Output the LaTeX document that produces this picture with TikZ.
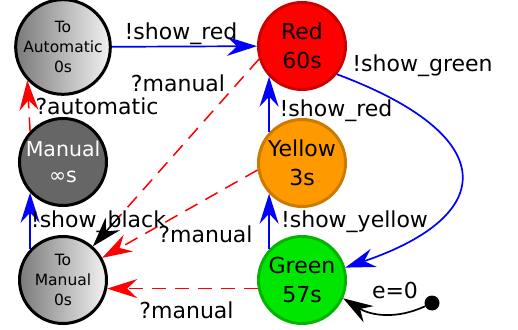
\documentclass[tikz,border=0pt]{standalone}
\usepackage{fontspec}
\setmainfont{DejaVu Sans}
\usetikzlibrary{arrows.meta}
\definecolor{rbord}{HTML}{CC0000}
\definecolor{yfill}{HTML}{FF9900}
\definecolor{ybord}{HTML}{CC7A00}
\definecolor{gfill}{HTML}{00E600}
\definecolor{gbord}{HTML}{00B400}
\definecolor{mfill}{HTML}{666666}
\definecolor{shL}{HTML}{7A7A7A}
\definecolor{shR}{HTML}{F2F2F2}
\tikzset{
  state/.style={circle, minimum size=87pt, inner sep=0pt, line width=3pt, align=center,
    font=\fontsize{22}{29}\selectfont},
  grad/.style={state, draw=black, shading=axis, left color=shL, right color=shR,
    font=\fontsize{15.5}{20}\selectfont},
  tipx/.style={-{Stealth[length=30pt,width=19pt,inset=10pt]}},
  bluearr/.style={draw=blue, line width=1.7pt, tipx},
  redarr/.style={draw=red, line width=1.5pt, dash pattern=on 14pt off 9pt, tipx},
  lbl/.style={font=\fontsize{22}{26}\selectfont, anchor=base, inner sep=0pt},
}
\begin{document}
\begin{tikzpicture}[x=1pt,y=1pt]
\useasboundingbox (0,0) rectangle (518,329);
\node[grad] (TA) at (63,282) {To\\Automatic\\0s};
\node[state, draw=rbord, fill=red] (R) at (302,283) {Red\\60s};
\node[state, draw=black, fill=mfill, text=white, font=\fontsize{20.5}{26}\selectfont] (M) at (63,167) {Manual\\∞s};
\node[state, draw=ybord, fill=yfill] (Y) at (302,166) {Yellow\\3s};
\node[grad] (TM) at (63,49) {To\\Manual\\0s};
\node[state, draw=gbord, fill=gfill] (G) at (302,49) {Green\\57s};
\node[circle, fill=black, minimum size=15pt, inner sep=0pt] (D) at (432,26) {};

% blue edges
\draw[bluearr] (TA) -- (R);
\draw[bluearr] (R.-39) .. controls (500,194) and (500,114) .. (G.16);
\draw[bluearr] (G.137) -- (Y.223);
\draw[bluearr] (Y.137) -- (R.223);
\draw[bluearr] (TM.137) -- (M.223);

% red dashed edges
\draw[redarr] (M.137) -- (TA.223);
\path (R.197) -- (TM) node[coordinate,pos=0.85] (bk) {};
\draw[draw=red, line width=1.5pt, dash pattern=on 14pt off 9pt] (R.197) -- (bk);
\draw[black, line width=1.5pt, tipx] (bk) -- (TM);
\draw[redarr] (Y.189) -- (TM);
\draw[redarr] (G.191.5) -- (TM.-11.5);

% initial
\draw[black, line width=1.7pt, tipx] (D) to[out=205, in=-32] (G.-24);

% labels
\node[lbl] (l1) at (181,289) {!show\_red};
\node[lbl] (l2) at (422.5,257) {!show\_green};
\node[lbl] (l3) at (336,212) {!show\_red};
\node[lbl] (l4) at (354.5,102) {!show\_yellow};
\node[lbl] (l5) at (178,237) {?manual};
\node[lbl] (l6) at (97,214) {?automatic};
\node[lbl] (l7) at (98.5,102) {!show\_black};
\node[lbl] (l8) at (205.5,87) {?manual};
\node[lbl] (l9) at (186.5,11) {?manual};
\node[lbl] (l10) at (395,31) {e=0};
\end{tikzpicture}
\end{document}
